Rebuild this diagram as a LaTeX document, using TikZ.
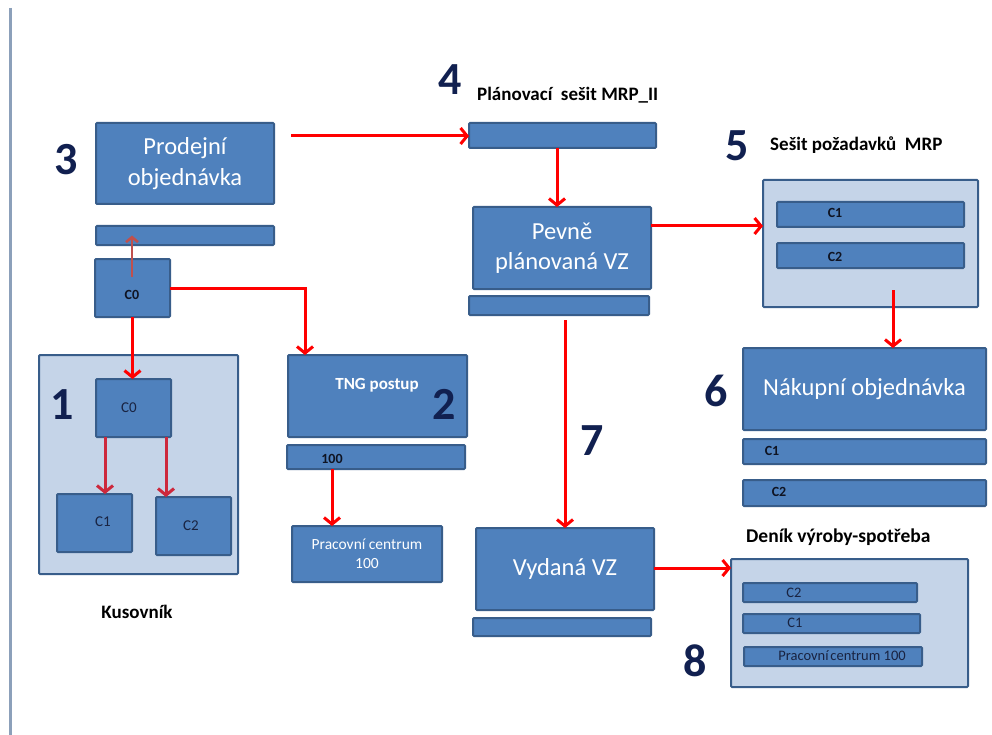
\documentclass[tikz,border=0pt]{standalone}
\usepackage{fontspec}
\setmainfont{Carlito}
\usetikzlibrary{arrows.meta,calc}
\definecolor{boxfill}{RGB}{79,129,189}
\definecolor{boxline}{RGB}{56,93,138}
\definecolor{panel}{RGB}{197,212,232}
\definecolor{navy}{RGB}{17,32,80}
\definecolor{kusred}{RGB}{205,40,60}
\definecolor{uparrow}{RGB}{192,80,77}
\definecolor{sideline}{RGB}{140,160,186}
\definecolor{darktext}{RGB}{15,20,35}
\definecolor{navytext}{RGB}{25,35,65}
\tikzset{
  box/.style={draw=boxline, fill=boxfill, line width=2pt, rounded corners=1pt, inner sep=0pt, outer sep=0pt},
  panelbox/.style={box, fill=panel},
  bigtxt/.style={text=white, font=\fontsize{24.5}{30.5}\selectfont, align=center},
  arr/.style={draw=red, line width=3pt, -{Straight Barb[length=6.5pt,width=16pt]}},
  kusarr/.style={draw=kusred, line width=3pt, -{Straight Barb[length=6.5pt,width=16pt]}},
  uparr/.style={draw=uparrow, line width=2.5pt, -{Straight Barb[length=5pt,width=12pt]}},
  numtext/.style={text=navy, font=\fontsize{46}{46}\selectfont\bfseries, inner sep=0pt},
  lbl/.style={text=black, font=\fontsize{18}{21}\selectfont\bfseries, inner sep=0pt},
  smallb/.style={text=darktext, font=\fontsize{14}{16}\selectfont\bfseries, inner sep=0pt},
  smallr/.style={text=navytext, font=\fontsize{15}{18}\selectfont, inner sep=0pt},
}
\begin{document}
\begin{tikzpicture}[x=1pt,y=-1pt]
\useasboundingbox (0,0) rectangle (992,735);
\fill[white] (0,0) rectangle (992,735);
\draw[sideline, line width=3pt] (10.5,8) -- (10.5,735);

% ---- left: sales order, C0, BOM
\node[box, minimum width=178pt, minimum height=81pt, bigtxt] (prod) at (185,163.5) {Prodejní\\objednávka};
\node[box, minimum width=178pt, minimum height=19pt] (prodbar) at (185,235.5) {};
\node[box, minimum width=75pt, minimum height=58pt] (c0up) at (132.5,288) {};
\node[smallb] (c0uptxt) at (132,295) {C0};

\node[panelbox, minimum width=199pt, minimum height=219pt] (kus) at (138.5,464.5) {};
\node[box, minimum width=75pt, minimum height=58pt] (c0in) at (133.5,408) {};
\node[smallr] (c0intxt) at (129,408) {C0};
\node[box, minimum width=75pt, minimum height=58pt] (c1k) at (94.5,523) {};
\node[smallr] (c1ktxt) at (103,522) {C1};
\node[box, minimum width=75pt, minimum height=58pt] (c2k) at (193.5,526) {};
\node[smallr] (c2ktxt) at (191,526) {C2};
\node[lbl, font=\fontsize{19}{21}\selectfont\bfseries] (kuslbl) at (137,612) {Kusovník};

% ---- routing
\node[box, minimum width=179pt, minimum height=82pt] (tng) at (377.5,396) {};
\node[text=white, font=\fontsize{17}{20}\selectfont\bfseries, inner sep=0pt] (tngtxt) at (377,385) {TNG postup};
\node[box, minimum width=178pt, minimum height=24pt] (tngbar) at (376,457) {};
\node[smallb] (tngbartxt) at (332,459) {100};
\node[box, minimum width=150pt, minimum height=56pt, text=white, align=center, font=\fontsize{15.5}{18.5}\selectfont] (pc) at (367,554) {Pracovní centrum\\100};

% ---- planning worksheet
\node[lbl, anchor=west, font=\fontsize{19}{21}\selectfont\bfseries] (mrplbl) at (477,95) {Plánovací\hspace{0.45em}sešit MRP\_II};
\node[box, minimum width=187pt, minimum height=25pt] (mrpbar) at (562.5,135.5) {};
\node[box, minimum width=178pt, minimum height=82pt, bigtxt] (pevne) at (562,248) {Pevně\\plánovaná VZ};
\node[box, minimum width=180pt, minimum height=19pt] (pevbar) at (559,305.5) {};

% ---- requisition worksheet
\node[lbl, anchor=west, font=\fontsize{19}{21}\selectfont\bfseries] (reqlbl) at (770,145) {Sešit požadavků\hspace{0.45em}MRP};
\node[panelbox, minimum width=215pt, minimum height=127pt] (req) at (870.5,243.5) {};
\node[box, minimum width=187pt, minimum height=25pt] (r1) at (870.5,214.5) {};
\node[smallb] (r1txt) at (835,213) {C1};
\node[box, minimum width=187pt, minimum height=25pt] (r2) at (870.5,255.5) {};
\node[smallb] (r2txt) at (835,257) {C2};

% ---- purchase order
\node[box, minimum width=243pt, minimum height=82pt, bigtxt] (nak) at (864.5,389) {Nákupní objednávka};
\node[box, minimum width=243pt, minimum height=25pt] (n1) at (864.5,451.5) {};
\node[smallb] (n1txt) at (772,451) {C1};
\node[box, minimum width=243pt, minimum height=26pt] (n2) at (864.5,493) {};
\node[smallb] (n2txt) at (779,492) {C2};

% ---- released order
\node[box, minimum width=178pt, minimum height=82pt, bigtxt] (vyd) at (565,569) {Vydaná VZ};
\node[box, minimum width=178pt, minimum height=18pt] (vydbar) at (562,627) {};

% ---- output journal
\node[lbl, anchor=west, font=\fontsize{19.5}{21}\selectfont\bfseries] (denlbl) at (746,537) {Deník výroby-spotřeba};
\node[panelbox, minimum width=237pt, minimum height=128pt] (den) at (849.5,623) {};
\node[box, minimum width=174pt, minimum height=19pt] (d2) at (830,592.5) {};
\node[smallr, font=\fontsize{14.5}{16}\selectfont] (d2txt) at (794,593) {C2};
\node[box, minimum width=177pt, minimum height=19pt] (d1) at (831.5,623.5) {};
\node[smallr, font=\fontsize{14.5}{16}\selectfont] (d1txt) at (795,623) {C1};
\node[box, minimum width=178pt, minimum height=19pt] (dpc) at (833,656.5) {};
\node[smallr, font=\fontsize{14.5}{16}\selectfont] (dpctxt) at (842,656) {Pracovní\hspace{-0.1em} centrum 100};

% ---- step numbers
\node[numtext] (num1) at (62,405) {1};
\node[numtext] (num2) at (444,404) {2};
\node[numtext] (num3) at (66,160) {3};
\node[numtext] (num4) at (450,80) {4};
\node[numtext] (num5) at (737,146) {5};
\node[numtext] (num6) at (716,391) {6};
\node[numtext] (num7) at (592,441) {7};
\node[numtext] (num8) at (695,661) {8};

% ---- connectors
\coordinate (a1s) at (291,136);
\draw[arr] (a1s) -- (a1s -| mrpbar.west);
\draw[arr] ([xshift=-5.5pt]mrpbar.south) -- ([xshift=-5pt]pevne.north);
\draw[arr] ([yshift=22pt]pevne.east) -- ([yshift=22pt]pevne.east -| req.west);
\draw[arr] ([xshift=22.5pt,yshift=17pt]req.south) -- ([xshift=28.5pt]nak.north);
\draw[arr] ([xshift=6pt,yshift=-5pt]pevbar.south) -- (vyd.north);
\draw[arr] ([yshift=1pt]vyd.east) -- ([yshift=1pt]vyd.east -| den.west);
\draw[arr] (c0up.east) -| ([xshift=-72.5pt]tng.north);
\draw[arr] ([xshift=-44pt]tngbar.south) -- ([xshift=-35pt]pc.north);
\draw[arr] (c0up.south) -- (c0up.south |- c0in.north);
\coordinate (k1) at ([xshift=-28.5pt]c0in.south);
\coordinate (k2) at ([xshift=32.5pt]c0in.south);
\draw[kusarr] (k1) -- (k1 |- c1k.north);
\draw[kusarr] (k2) -- (k2 |- c2k.north);
\coordinate (uA) at ([xshift=-0.5pt,yshift=11pt]c0up.center);
\draw[uparr] (uA) -- (uA |- prodbar.center);
\end{tikzpicture}
\end{document}
